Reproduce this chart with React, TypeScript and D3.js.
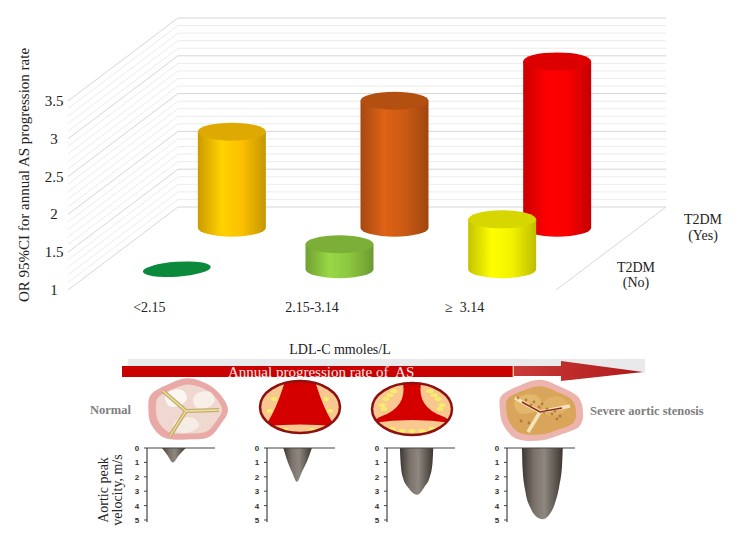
import * as d3 from 'd3';
import React from 'react';

// chart data
const categories = ['<2.15', '2.15-3.14', '≥  3.14'];
const seriesNames = ['T2DM (No)', 'T2DM (Yes)'];
const orNoDiabetes = [1.0, 1.33, 1.66];
const orDiabetes = [2.27, 2.68, 3.2];
const colorsNo = ['#0b8a3c', '#8cc63f', '#f2f200'];
const colorsYes = ['#fcc000', '#cc5a14', '#fa0000'];
const yTicks = [1, 1.5, 2, 2.5, 3, 3.5];

// doppler panels: peak velocity profile (time fraction, m/s)
const velocityTicks = [0, 1, 2, 3, 4, 5];
const jetProfiles: [number, number][][] = [
  [[0.22, 0], [0.3, 0.5], [0.38, 1.0], [0.47, 0.5], [0.57, 0]],
  [[0.24, 0], [0.3, 0.9], [0.37, 1.7], [0.44, 2.35], [0.52, 1.6], [0.6, 0.8], [0.66, 0]],
  [[0.19, 0], [0.2, 1.0], [0.23, 2.0], [0.32, 2.8], [0.44, 3.25], [0.55, 2.7], [0.63, 2.0], [0.67, 1.0], [0.68, 0]],
  [[0.22, 0], [0.23, 1.5], [0.27, 3.0], [0.35, 4.2], [0.44, 4.8], [0.52, 4.95], [0.61, 4.7], [0.7, 3.9], [0.77, 2.6], [0.81, 1.2], [0.82, 0]],
];

const serif = "'Liberation Serif', 'Times New Roman', serif";
const sans = "'Liberation Sans', Arial, sans-serif";

// 3d frame
const FRONT_Y = 290;
const DEPTH_X = 110;
const DEPTH_Y = -83;
const RX = 34;
const RY = 9;

const x = d3.scaleBand<string>().domain(categories).range([68, 556]);
const y = d3.scaleLinear().domain([1, 3.5]).range([FRONT_Y, 101]);
const depth = d3.scalePoint<string>().domain(seriesNames).range([0, 1]).padding(0.5);
const proj = (px: number, v: number, d: number): [number, number] => [px + d * DEPTH_X, y(v) + d * DEPTH_Y];

const gridLevels = d3.range(10, 36).map(i => i / 10);

const Cylinder = ({ id, cx, base, top, color }: any) => {
  const c = d3.color(color)!;
  const flat = Math.abs(base - top) < 0.5;
  return (
    <g>
      <defs>
        <linearGradient id={id} x1="0" x2="1" y1="0" y2="0">
          <stop offset="0" stopColor={c.darker(0.6).formatHex()} />
          <stop offset="0.35" stopColor={c.brighter(0.25).formatHex()} />
          <stop offset="0.65" stopColor={c.formatHex()} />
          <stop offset="1" stopColor={c.darker(0.7).formatHex()} />
        </linearGradient>
      </defs>
      {!flat && (
        <path
          d={`M${cx - RX},${top} L${cx - RX},${base} A${RX},${RY} 0 0 0 ${cx + RX},${base} L${cx + RX},${top} Z`}
          fill={`url(#${id})`}
        />
      )}
      <ellipse
        cx={cx}
        cy={top}
        rx={RX}
        ry={flat ? 7.5 : RY}
        fill={flat ? c.formatHex() : c.darker(0.35).formatHex()}
        transform={flat ? `rotate(-4 ${cx} ${top})` : undefined}
      />
    </g>
  );
};

const blob = (cx: number, cy: number, radii: number[], sx: number, sy: number) => {
  const n = radii.length;
  const pts: [number, number][] = radii.map((r, i) => {
    const a = (i / n) * Math.PI * 2;
    return [cx + Math.cos(a) * r * sx, cy + Math.sin(a) * r * sy];
  });
  return d3.line().curve(d3.curveCardinalClosed)(pts) || '';
};

const DopplerPanel = ({ ox, profile, idx }: any) => {
  const w = 68;
  const vy = d3.scaleLinear().domain([0, 5]).range([448, 520]);
  const tx = d3.scaleLinear().domain([0, 1]).range([ox, ox + w]);
  const area = d3
    .area<[number, number]>()
    .x(d => tx(d[0]))
    .y0(vy(0))
    .y1(d => vy(d[1]))
    .curve(d3.curveMonotoneX);
  return (
    <g>
      <defs>
        <linearGradient id={`jet${idx}`} x1="0" x2="1" y1="0" y2="0">
          <stop offset="0" stopColor="#3e3630" />
          <stop offset="0.3" stopColor="#7a726b" />
          <stop offset="0.55" stopColor="#8e8780" />
          <stop offset="1" stopColor="#3e3630" />
        </linearGradient>
      </defs>
      <path d={area(profile) || ''} fill={`url(#jet${idx})`} />
      <line x1={ox} x2={ox + w} y1={448} y2={448} stroke="#444" strokeWidth={1.2} />
      <line x1={ox} x2={ox} y1={448} y2={522} stroke="#444" strokeWidth={1.2} />
      {velocityTicks.map(t => (
        <g key={t}>
          <line x1={ox - 3} x2={ox} y1={vy(t)} y2={vy(t)} stroke="#444" />
          <text x={ox - 10} y={vy(t) + 3} textAnchor="middle" fontFamily={sans} fontWeight="bold" fontSize={8} fill="#333">
            {t}
          </text>
        </g>
      ))}
    </g>
  );
};

const StenoticValve = ({ cx, cy, severe, id }: any) => {
  const rx = 40;
  const ry = 26;
  const red = severe
    ? `M${cx - 9},${cy - ry} Q${cx - 5},${cy - 2} ${cx - 30},${cy + 7} Q${cx - 37},${cy + 10} ${cx - 40},${cy + 14} Q${cx},${cy + 8} ${cx + 40},${cy + 14} Q${cx + 37},${cy + 10} ${cx + 30},${cy + 7} Q${cx + 5},${cy - 2} ${cx + 9},${cy - ry} Z`
    : `M${cx - 15},${cy - ry} Q${cx - 24},${cy + 4} ${cx - 35},${cy + 19} Q${cx},${cy + 16} ${cx + 35},${cy + 19} Q${cx + 24},${cy + 4} ${cx + 15},${cy - ry} Z`;
  const dots = severe
    ? [[-26, -10], [-22, -14], [-30, -4], [-18, -18], [26, -10], [22, -14], [30, -4], [18, -18], [-20, 20], [-10, 22], [0, 22], [10, 22], [20, 20], [-28, 0], [28, 0]]
    : [[-26, -8], [26, -8], [-14, 23], [12, 23], [-30, 4], [30, 4]];
  return (
    <g>
      <defs>
        <clipPath id={id}>
          <ellipse cx={cx} cy={cy} rx={rx} ry={ry} />
        </clipPath>
      </defs>
      <ellipse cx={cx} cy={cy} rx={rx} ry={ry} fill="#f8c890" />
      <g clipPath={`url(#${id})`}>
        <path d={red} fill="#d40000" />
        {dots.map((p, i) => (
          <ellipse key={i} cx={cx + p[0]} cy={cy + p[1]} rx={severe ? 3.5 : 3} ry={2} fill="#f6ee6a" />
        ))}
      </g>
      <ellipse cx={cx} cy={cy} rx={rx} ry={ry} fill="none" stroke="#8e1010" strokeWidth={2.5} />
    </g>
  );
};

const App = () => {
  const rows = [
    { name: seriesNames[1], values: orDiabetes, colors: colorsYes },
    { name: seriesNames[0], values: orNoDiabetes, colors: colorsNo },
  ];
  const [wallL] = proj(68, 1, 1);
  const [wallR] = proj(556, 1, 1);
  const [fr0x, fr0y] = proj(556, 1, 0);
  const [fr1x, fr1y] = proj(556, 1, 1);

  const n1 = [1, 0.95, 1.05, 0.98, 1.08, 1, 0.94, 1.02, 0.97, 1.06, 1, 0.96];
  const n4 = [1, 1.06, 0.95, 1.02, 1.1, 0.98, 0.93, 1.04, 1, 1.08, 0.96, 1.01];

  return (
    <svg width={752} height={535} style={{ position: 'absolute', left: 0, top: 0, background: '#fff' }}>
      {/* back wall and side wall grid */}
      {gridLevels.map((v, i) => {
        const major = Math.abs(v * 2 - Math.round(v * 2)) < 1e-6;
        const [sx0, sy0] = proj(68, v, 0);
        const [sx1, sy1] = proj(68, v, 1);
        return (
          <g key={i}>
            <line x1={wallL} x2={wallR} y1={sy1} y2={sy1} stroke={major ? '#d6d6d6' : '#ececec'} strokeWidth={1} />
            <line x1={sx0} x2={sx1} y1={sy0} y2={sy1} stroke={major ? '#d6d6d6' : '#ececec'} strokeWidth={1} />
          </g>
        );
      })}
      <line x1={fr0x} y1={fr0y} x2={fr1x} y2={fr1y} stroke="#d6d6d6" />

      {/* cylinders */}
      {rows.map((row, ri) =>
        row.values.map((v, ci) => {
          const cxFront = x(categories[ci])! + x.bandwidth() / 2;
          const d = depth(row.name)!;
          const [cx, base] = proj(cxFront, 1, d);
          const [, top] = proj(cxFront, v, d);
          return <Cylinder key={`${ri}-${ci}`} id={`cyl${ri}${ci}`} cx={cx} base={base} top={top} color={row.colors[ci]} />;
        })
      )}

      {/* y axis */}
      {yTicks.map(t => (
        <text key={t} x={54} y={y(t) + 5} textAnchor="middle" fontFamily={serif} fontSize={15} fill="#222">
          {t}
        </text>
      ))}
      <text transform="translate(29,175) rotate(-90)" textAnchor="middle" fontFamily={serif} fontSize={15} fill="#222">
        OR 95%CI for annual AS progression rate
      </text>

      {/* category labels */}
      {categories.map((c, i) => (
        <text
          key={c}
          x={x(c)! + x.bandwidth() / 2 - (i === 2 ? 10 : 0)}
          y={312}
          textAnchor="middle"
          fontFamily={serif}
          fontSize={14}
          fill="#222"
          style={{ whiteSpace: 'pre' }}
        >
          {c}
        </text>
      ))}

      {/* series labels */}
      <text x={703} y={224} textAnchor="middle" fontFamily={serif} fontSize={14} fill="#222">
        <tspan x={703}>T2DM</tspan>
        <tspan x={703} dy={16}>(Yes)</tspan>
      </text>
      <text x={636} y={272} textAnchor="middle" fontFamily={serif} fontSize={14} fill="#222">
        <tspan x={636}>T2DM</tspan>
        <tspan x={636} dy={15}>(No)</tspan>
      </text>

      {/* progression arrow */}
      <text x={340} y={354} textAnchor="middle" fontFamily={serif} fontSize={14} fill="#222">
        LDL-C mmoles/L
      </text>
      <defs>
        <linearGradient id="arrowGrad" x1="0" x2="1" y1="0" y2="0">
          <stop offset="0" stopColor="#c83a3a" />
          <stop offset="1" stopColor="#b01818" />
        </linearGradient>
      </defs>
      <rect x={128} y={359} width={517} height={14} fill="#e9e9ec" />
      <rect x={122} y={366} width={391} height={11} fill="#c80000" />
      <line x1={513} x2={513} y1={366} y2={377} stroke="#f0a060" strokeWidth={1} />
      <path d="M514,366 L561,366 L561,361 L643,372 L561,381 L561,376 L514,376 Z" fill="url(#arrowGrad)" />
      <text x={228} y={377} fontFamily={serif} fontSize={15} fill="#fbe6e6" style={{ whiteSpace: 'pre' }}>
        Annual progression rate of  AS
      </text>

      {/* valves */}
      <text x={90} y={414} fontFamily={serif} fontWeight="bold" fontSize={12.5} fill="#808080">
        Normal
      </text>
      <g>
        <path d={blob(187, 410, n1, 41, 30)} fill="#e59a96" opacity={0.85} />
        <path d={blob(188, 410, n1, 34, 24)} fill="#eed8d0" />
        <path d={blob(176, 398, [1, 0.9, 1.1, 1, 0.95, 1.05], 11, 9)} fill="#fbf6f2" />
        <path d={blob(204, 400, [1, 0.9, 1.1, 1, 0.95, 1.05], 11, 9)} fill="#f8efe9" />
        <path d={blob(186, 425, [1, 0.9, 1.1, 1, 0.95, 1.05], 13, 8)} fill="#f6ece6" />
        <path d="M163,391 L186,411 L219,410 M186,411 L170,436" fill="none" stroke="#c4ad66" strokeWidth={4} />
        <path d="M163,391 L186,411 L219,410 M186,411 L170,436" fill="none" stroke="#efe2a8" strokeWidth={1.3} />
      </g>
      <StenoticValve cx={300} cy={407} severe={false} id="v2" />
      <StenoticValve cx={412} cy={409} severe={true} id="v3" />
      <g>
        <path d={blob(540, 411, n4, 43, 29)} fill="#eaa79f" opacity={0.85} />
        <path d={blob(540, 411, n4, 36, 23)} fill="#d9a55a" />
        <path d={blob(528, 404, [1, 0.9, 1.1, 1, 0.95, 1.05], 14, 10)} fill="#e4b86c" />
        <path d={blob(555, 406, [1, 0.9, 1.1, 1, 0.95, 1.05], 13, 10)} fill="#e0b064" />
        <path d="M515,398 L540,412 L570,406 M540,412 L528,432" fill="none" stroke="#f4e4b8" strokeWidth={3.5} />
        <path d="M522,402 L540,412 L562,408" fill="none" stroke="#8e2a1a" strokeWidth={1.5} />
        {d3.range(14).map(i => (
          <circle key={i} cx={518 + ((i * 13) % 44)} cy={398 + ((i * 7) % 26)} r={1.4} fill="#9a6a30" opacity={0.7} />
        ))}
      </g>
      <text x={590} y={415} fontFamily={serif} fontWeight="bold" fontSize={12.5} fill="#808080">
        Severe aortic stenosis
      </text>

      {/* doppler velocity panels */}
      {jetProfiles.map((p, i) => (
        <DopplerPanel key={i} idx={i} ox={147 + i * 120} profile={p} />
      ))}
      <text transform="translate(108,490) rotate(-90)" textAnchor="middle" fontFamily={serif} fontSize={14} fill="#222">
        Aortic peak
      </text>
      <text transform="translate(122,490) rotate(-90)" textAnchor="middle" fontFamily={serif} fontSize={14} fill="#222">
        velocity, m/s
      </text>
    </svg>
  );
};

export default App;
